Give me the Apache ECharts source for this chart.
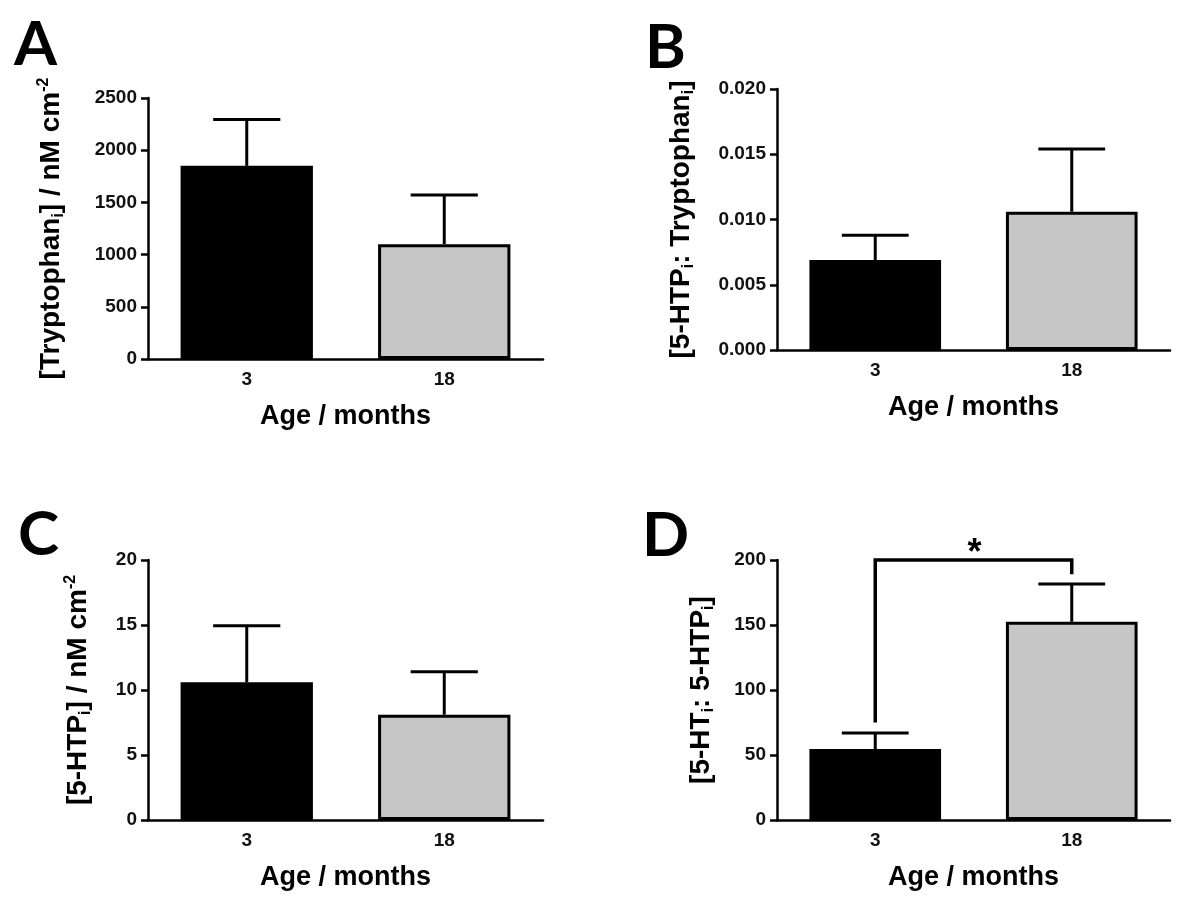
<!DOCTYPE html>
<html><head><meta charset="utf-8">
<script src="https://cdn.jsdelivr.net/npm/echarts@6/dist/echarts.min.js"></script>
<style>html,body{margin:0;padding:0;background:#fff}#c{width:1200px;height:903px}</style>
</head><body><div id="c"></div>
<script>
// ---- data ----
const categories = ['3', '18'];
const tryptophanMean = [1850, 1100];
const tryptophanUpper = [2295, 1570];
const htpTrpRatioMean = [0.0069, 0.0106];
const htpTrpRatioUpper = [0.0088, 0.0154];
const htpMean = [10.6, 8.1];
const htpUpper = [14.95, 11.4];
const htHtpRatioMean = [54.6, 152.5];
const htHtpRatioUpper = [67, 181.5];
// significance bracket in D: [left category, right category, left foot, top, right foot]
const sigBracketD = [[0, 1, 75, 200, 189]];
const sigLabelD = '*';
const panelLetters = ['A', 'B', 'C', 'D'];
const xAxisTitle = 'Age / months';
const yTitles = [
  '{m|[Tryptophan}{s|i}{m|] / nM cm}{p|-2}',
  '{m|[5-HTP}{s|i}{m|: Tryptophan}{s|i}{m|]}',
  '{m|[5-HTP}{s|i}{m|] / nM cm}{p|-2}',
  '{m|[5-HT}{s|i}{m|: 5-HTP}{s|i}{m|]}'
];
const yMax = [2500, 0.02, 20, 200];
const yInterval = [500, 0.005, 5, 50];
const yDecimals = [0, 3, 0, 0];
const barColors = ['#000000', '#c6c6c6'];

// ---- layout ----
const grids = [
  {left: 148, top: 98, width: 395, height: 261},
  {left: 777, top: 89, width: 393, height: 261},
  {left: 148, top: 560, width: 395, height: 260},
  {left: 777, top: 560, width: 393, height: 260}
];
const nameGaps = [81, 80, 54, 60];
const letterPos = [[14, 14], [645, 17], [18, 504], [642, 505]];
const means = [tryptophanMean, htpTrpRatioMean, htpMean, htHtpRatioMean];
const uppers = [tryptophanUpper, htpTrpRatioUpper, htpUpper, htHtpRatioUpper];

const FONT = '"Liberation Sans", Arial, sans-serif';
const richStyles = {
  m: {fontSize: 28, fontWeight: 'bold', fontFamily: FONT, color: '#000', lineHeight: 31},
  s: {fontSize: 16, fontWeight: 'bold', fontFamily: FONT, color: '#000', lineHeight: 16, verticalAlign: 'bottom'},
  p: {fontSize: 16, fontWeight: 'bold', fontFamily: FONT, color: '#000', lineHeight: 16, verticalAlign: 'top'}
};

const option = {
  backgroundColor: '#fff',
  animation: false,
  title: panelLetters.map((t, i) => ({
    text: t, left: letterPos[i][0], top: letterPos[i][1], padding: 0,
    textStyle: {fontSize: 62, fontWeight: 'bold', fontFamily: 'Lato, "Open Sans", sans-serif', color: '#000'}
  })),
  grid: grids,
  xAxis: grids.map((g, i) => ({
    type: 'category', gridIndex: i, data: categories,
    name: xAxisTitle, nameLocation: 'middle', nameGap: 44,
    nameTextStyle: {fontSize: 27, fontWeight: 'bold', fontFamily: FONT, color: '#000'},
    axisLine: {lineStyle: {color: '#000', width: 2.5}},
    axisTick: {alignWithLabel: true, length: 7, lineStyle: {color: '#000', width: 2.5}},
    axisLabel: {fontSize: 19, fontWeight: 'bold', fontFamily: FONT, color: '#111', margin: 11}
  })),
  yAxis: grids.map((g, i) => ({
    type: 'value', gridIndex: i, min: 0, max: yMax[i], interval: yInterval[i],
    name: yTitles[i], nameLocation: 'middle', nameRotate: 90, nameGap: nameGaps[i],
    nameTextStyle: {rich: richStyles},
    splitLine: {show: false},
    axisLine: {show: true, lineStyle: {color: '#000', width: 2.5}},
    axisTick: {show: true, length: 7, lineStyle: {color: '#000', width: 2.5}},
    axisLabel: {fontSize: 19, fontWeight: 'bold', fontFamily: FONT, color: '#111', margin: 11,
      formatter: v => v.toFixed(yDecimals[i])}
  })),
  series: []
};

means.forEach((m, i) => {
  option.series.push({
    type: 'bar', xAxisIndex: i, yAxisIndex: i, barWidth: '67%',
    data: m.map((v, k) => ({value: v, itemStyle: {color: barColors[k]}})),
    itemStyle: {borderColor: '#000', borderWidth: 3}, z: 2
  });
  option.series.push({
    type: 'custom', xAxisIndex: i, yAxisIndex: i, z: 3,
    data: m.map((v, k) => [k, v, uppers[i][k]]),
    renderItem: (params, api) => {
      const p0 = api.coord([api.value(0), api.value(1)]);
      const p1 = api.coord([api.value(0), api.value(2)]);
      const half = api.size([1, 0])[0] * 0.17;
      const st = {stroke: '#000', lineWidth: 3};
      return {type: 'group', children: [
        {type: 'line', shape: {x1: p0[0], y1: p0[1], x2: p1[0], y2: p1[1]}, style: st},
        {type: 'line', shape: {x1: p1[0] - half, y1: p1[1], x2: p1[0] + half, y2: p1[1]}, style: st}
      ]};
    }
  });
});

option.series.push({
  type: 'custom', xAxisIndex: 3, yAxisIndex: 3, z: 4, clip: false,
  data: sigBracketD,
  renderItem: (params, api) => {
    const a = api.coord([api.value(0), api.value(2)]);
    const b = api.coord([api.value(0), api.value(3)]);
    const c = api.coord([api.value(1), api.value(3)]);
    const d = api.coord([api.value(1), api.value(4)]);
    return {type: 'group', children: [
      {type: 'polyline', shape: {points: [a, b, c, d]}, style: {stroke: '#000', lineWidth: 3.5, fill: null}},
      {type: 'text', x: (b[0] + c[0]) / 2 + 1, y: b[1] + 12,
        style: {text: sigLabelD, fontSize: 36, fontWeight: 'bold', fontFamily: FONT, fill: '#000',
          align: 'center', verticalAlign: 'bottom'}}
    ]};
  }
});

const chart = echarts.init(document.getElementById('c'), null, {renderer: 'canvas'});
chart.setOption(option);
</script>
</body></html>
